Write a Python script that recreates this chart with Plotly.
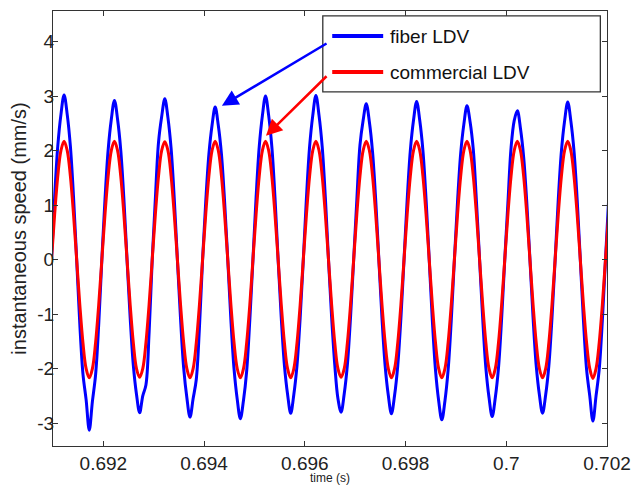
import numpy as np
import plotly.graph_objects as go

# sampled signals, 16 samples per 1 ms cycle, starting at a zero crossing
t_start = 0.69097
t_step = 0.0000625

fiber_speed = [
    0, 1.15, 2.08, 2.66, 3.02, 2.66, 2.08, 1.15, 0, -1.19, -2.10, -2.57, -3.13, -2.60, -2.12, -1.19,
    0, 1.11, 2.01, 2.57, 2.92, 2.57, 2.01, 1.11, 0, -1.07, -1.94, -2.47, -2.81, -2.50, -2.30, -1.35,
    0, 1.12, 2.15, 2.62, 2.95, 2.60, 2.04, 1.12, 0, -1.09, -1.99, -2.53, -2.89, -2.55, -2.20, -1.25,
    0, 1.06, 1.93, 2.46, 2.80, 2.46, 1.93, 1.06, 0, -1.11, -2.01, -2.56, -2.92, -2.58, -2.05, -1.11,
    0, 1.14, 2.07, 2.64, 3.00, 2.64, 2.07, 1.14, 0, -1.07, -1.94, -2.47, -2.82, -2.47, -1.94, -1.07,
    0, 1.14, 2.07, 2.64, 3.01, 2.64, 2.07, 1.14, 0, -1.06, -1.93, -2.55, -2.80, -2.46, -1.93, -1.06,
    0, 1.09, 2.10, 2.55, 2.86, 2.52, 1.97, 1.09, 0, -1.08, -1.95, -2.49, -2.83, -2.49, -1.95, -1.08,
    0, 1.10, 2.00, 2.55, 2.90, 2.55, 2.00, 1.10, 0, -1.12, -2.03, -2.59, -2.94, -2.59, -2.03, -1.12,
    0, 1.07, 1.95, 2.48, 2.82, 2.52, 2.02, 1.07, 0, -1.09, -1.99, -2.53, -2.88, -2.53, -1.99, -1.09,
    0, 1.04, 2.05, 2.55, 2.73, 2.40, 1.88, 1.04, 0, -1.07, -1.95, -2.48, -2.82, -2.48, -1.95, -1.07,
    0, 1.10, 1.99, 2.54, 2.89, 2.54, 1.99, 1.10, 0, -1.12, -2.02, -2.50, -2.96, -2.50, -2.02, -1.12,
    0, 1.10,
]

commercial_speed = [
    0, 0.83, 1.53, 2.00, 2.17, 2.00, 1.53, 0.83, 0, -0.83, -1.53, -2.00, -2.17, -2.00, -1.53, -0.83,
    0, 0.83, 1.53, 2.00, 2.17, 2.00, 1.53, 0.83, 0, -0.83, -1.53, -2.00, -2.16, -2.00, -1.53, -0.83,
    0, 0.83, 1.53, 2.00, 2.16, 2.00, 1.53, 0.83, 0, -0.83, -1.53, -2.00, -2.17, -2.00, -1.53, -0.83,
    0, 0.83, 1.53, 2.00, 2.17, 2.00, 1.53, 0.83, 0, -0.83, -1.53, -2.00, -2.17, -2.00, -1.53, -0.83,
    0, 0.83, 1.53, 2.00, 2.17, 2.00, 1.53, 0.83, 0, -0.83, -1.53, -2.00, -2.17, -2.00, -1.53, -0.83,
    0, 0.83, 1.53, 2.00, 2.17, 2.00, 1.53, 0.83, 0, -0.83, -1.53, -2.00, -2.16, -2.00, -1.53, -0.83,
    0, 0.83, 1.53, 2.00, 2.17, 2.00, 1.53, 0.83, 0, -0.83, -1.53, -2.00, -2.17, -2.00, -1.53, -0.83,
    0, 0.83, 1.53, 2.00, 2.17, 2.00, 1.53, 0.83, 0, -0.83, -1.53, -2.00, -2.17, -2.00, -1.53, -0.83,
    0, 0.83, 1.53, 2.00, 2.17, 2.00, 1.53, 0.83, 0, -0.83, -1.53, -2.00, -2.17, -2.00, -1.53, -0.83,
    0, 0.83, 1.53, 2.00, 2.17, 2.00, 1.53, 0.83, 0, -0.83, -1.53, -2.00, -2.17, -2.00, -1.53, -0.83,
    0, 0.83, 1.53, 2.00, 2.17, 2.00, 1.53, 0.83, 0, -0.83, -1.53, -2.00, -2.18, -2.00, -1.53, -0.83,
    0, 0.83,
]

x_ticks = [0.692, 0.694, 0.696, 0.698, 0.7, 0.702]
x_tick_labels = ["0.692", "0.694", "0.696", "0.698", "0.7", "0.702"]
y_ticks = [-3, -2, -1, 0, 1, 2, 3, 4]
y_tick_labels = ["-3", "-2", "-1", "0", "1", "2", "3", "4"]

series_names = ["fiber LDV", "commercial LDV"]
series_colors = ["#0000FF", "#FF0000"]

time_s = np.round(t_start + t_step * np.arange(len(fiber_speed)), 8)

FONT = "Liberation Sans, Arial, sans-serif"
AXIS_COLOR = "#333333"

fig = go.Figure()
for name, vals, col in zip(series_names, [fiber_speed, commercial_speed], series_colors):
    fig.add_trace(go.Scatter(
        x=time_s, y=vals, name=name, mode="lines",
        line=dict(color=col, width=3, shape="spline", smoothing=1),
        showlegend=False,
    ))

# hand-drawn legend box (MATLAB style, long line samples)
fig.add_shape(type="rect", xref="paper", yref="paper",
              x0=0.487, x1=0.988, y0=0.814, y1=0.989,
              line=dict(color=AXIS_COLOR, width=1.3), fillcolor="white", layer="above")
for i, (name, col) in enumerate(zip(series_names, series_colors)):
    yy = [0.9425, 0.8597][i]
    fig.add_shape(type="line", xref="paper", yref="paper",
                  x0=0.504, x1=0.596, y0=yy, y1=yy,
                  line=dict(color=col, width=4), layer="above")
    fig.add_annotation(x=0.605, y=yy, xref="paper", yref="paper", text=name,
                       showarrow=False, xanchor="left", yanchor="middle",
                       font=dict(family=FONT, size=19, color="#111111"))

# arrows from the legend to one peak of each series
fig.add_annotation(x=0.694354, y=2.82, ax=0.696461, ay=3.98, xref="x", yref="y",
                   axref="x", ayref="y", text="", showarrow=True,
                   arrowhead=2, arrowsize=1.3, arrowwidth=2.5, arrowcolor="#0000FF")
fig.add_annotation(x=0.695229, y=2.27, ax=0.696461, ay=3.39, xref="x", yref="y",
                   axref="x", ayref="y", text="", showarrow=True,
                   arrowhead=2, arrowsize=1.3, arrowwidth=2.5, arrowcolor="#FF0000")

axis_common = dict(
    showline=True, linecolor=AXIS_COLOR, linewidth=1.3, mirror="ticks",
    ticks="inside", ticklen=5, tickcolor=AXIS_COLOR, tickwidth=1.3,
    showgrid=False, zeroline=False, automargin=False,
    tickfont=dict(family=FONT, size=19, color="#222222"),
)

# page body has an 8px margin, so the figure is 8px smaller than the window
fig.update_layout(
    width=635, height=477,
    margin=dict(l=45, r=36, t=3, b=39),
    paper_bgcolor="white", plot_bgcolor="white",
    xaxis=dict(range=[0.691, 0.702], tickvals=x_ticks, ticktext=x_tick_labels,
               ticklabelstandoff=0,
               title=dict(text="time (s)", font=dict(family=FONT, size=12, color="#222222"),
                          standoff=2),
               **axis_common),
    yaxis=dict(range=[-3.42, 4.56], tickvals=y_ticks, ticktext=y_tick_labels,
               ticklabelstandoff=-6,
               title=dict(text="instantaneous speed (mm/s)",
                          font=dict(family=FONT, size=20, color="#222222"), standoff=10),
               **axis_common),
)

fig.write_html("out.html")
